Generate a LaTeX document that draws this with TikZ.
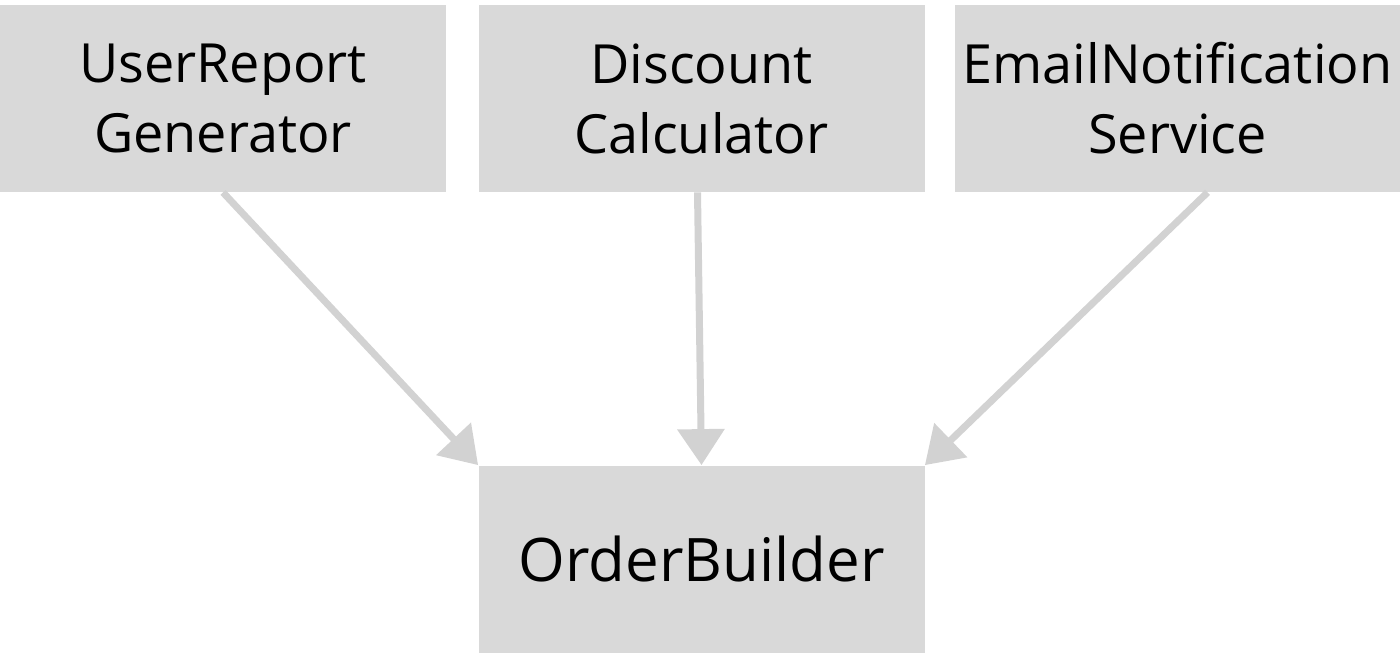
\documentclass[tikz,border=0pt]{standalone}
\usepackage{fontspec}
\setmainfont{Open Sans}
\usetikzlibrary{arrows.meta}
\definecolor{boxgray}{HTML}{D9D9D9}
\definecolor{arrowgray}{HTML}{D2D2D2}
\begin{document}
\begin{tikzpicture}[x=0.5pt,y=-0.5pt,
                    classbox/.style={fill=boxgray, minimum width=223pt, minimum height=93.5pt,
                                     inner sep=0pt, align=center, font=\fontsize{27}{35}\selectfont},
                    dep/.style={draw=arrowgray, line width=3.5pt, -{Triangle[length=18pt,width=23pt]}}]
                    \useasboundingbox (0,0) rectangle (1400,665);

                    \node[classbox] (urg) at (223,98.5) {UserReport\\Generator};
                    \node[classbox] (dc) at (701.5,98.5) {Discount\\Calculator};
                    \node[classbox] (ens) at (1177.5,98.5) {EmailNotification\\Service};

                    \node[classbox, font=\fontsize{30}{35}\selectfont] (ob) at (701.5,559) {OrderBuilder};

                    \draw[dep] (urg.south) -- (ob.north west);
                    \draw[dep] ([xshift=-2pt]dc.south) -- (ob.north);
                    \draw[dep] ([xshift=15pt]ens.south) -- (ob.north east);
                \end{tikzpicture}
\end{document}
